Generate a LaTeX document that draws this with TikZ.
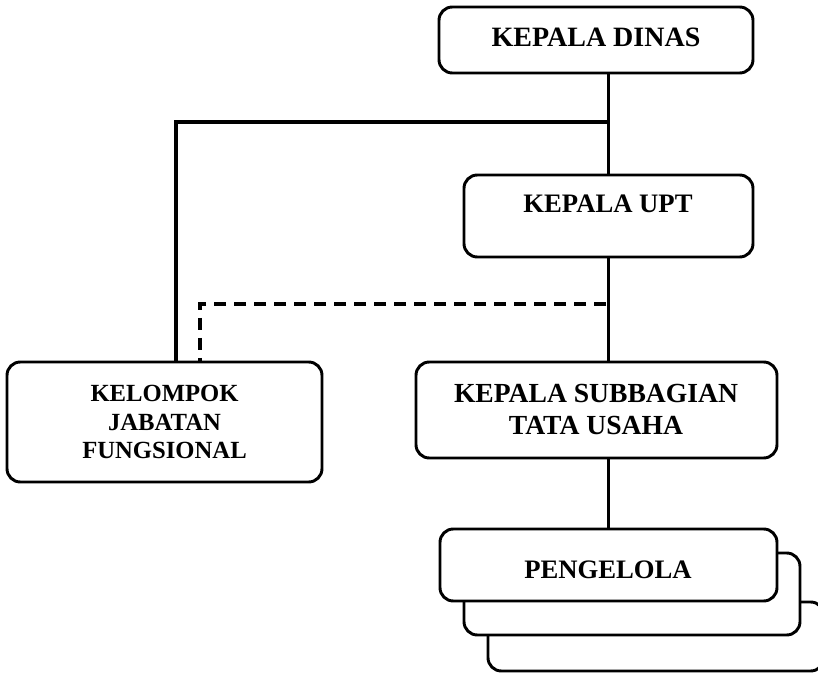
\documentclass[tikz,border=0pt]{standalone}
\usepackage{fontspec}
\setmainfont{Liberation Serif}
\begin{document}
\begin{tikzpicture}[x=0.75pt,y=-0.75pt,
  box/.style={draw=black,line width=2.2pt,rounded corners=10pt,fill=white,inner sep=0pt},
  lbl/.style={font=\fontsize{20}{24}\selectfont\bfseries,anchor=base,inner sep=0pt},
  lbls/.style={font=\fontsize{18.5}{21.4}\selectfont\bfseries,align=center,inner sep=0pt},
  conn/.style={line width=2.4pt},
  dconn/.style={line width=2.4pt,dash pattern=on 9pt off 6pt}]
\useasboundingbox (0,0) rectangle (818,673);
\begin{scope}
\clip (0,0) rectangle (818,673);
% boxes
\node[box,minimum width=235.5pt,minimum height=49.5pt] (dinas) at (596,40) {};
\node[box,minimum width=216.75pt,minimum height=61.5pt] (upt) at (608.5,216) {};
\node[box,minimum width=236.25pt,minimum height=90pt] (kjf) at (164.5,422) {};
\node[box,minimum width=270.75pt,minimum height=72pt] (sub) at (596.5,410) {};
\node[box,minimum width=252pt,minimum height=51.75pt] (peng3) at (656,636.5) {};
\node[box,minimum width=252pt,minimum height=61.5pt] (peng2) at (632,594) {};
\node[box,minimum width=252.75pt,minimum height=54pt] (peng1) at (608.5,565) {};
% labels
\node[lbl,font=\fontsize{21}{24}\selectfont\bfseries] (dinasT) at (596,47) {KEPALA DINAS};
\node[lbl] (uptT) at (608,213) {KEPALA UPT};
\node[lbls,font=\fontsize{20.7}{24}\selectfont\bfseries] (subT) at (596,409) {KEPALA SUBBAGIAN\\TATA USAHA};
\node[lbls] (kjfT) at (164.5,422) {KELOMPOK\\JABATAN\\FUNGSIONAL};
\node[lbl] (pengT) at (608,579) {PENGELOLA};
% connectors
\coordinate (j1) at (608.5,122);
\coordinate (j2) at (606,304);
\coordinate (kl) at (176,0);
\coordinate (kd) at (200,0);
\draw[conn] (dinas.south -| upt.north) -- (upt.north);
\draw[conn] (upt.south) -- (sub.north -| upt.south);
\draw[conn] (sub.south -| peng1.north) -- (peng1.north);
\draw[conn] (j1) -| (kjf.north -| kl);
\draw[dconn] (j2) -| (kjf.north -| kd);
\end{scope}
\end{tikzpicture}
\end{document}
